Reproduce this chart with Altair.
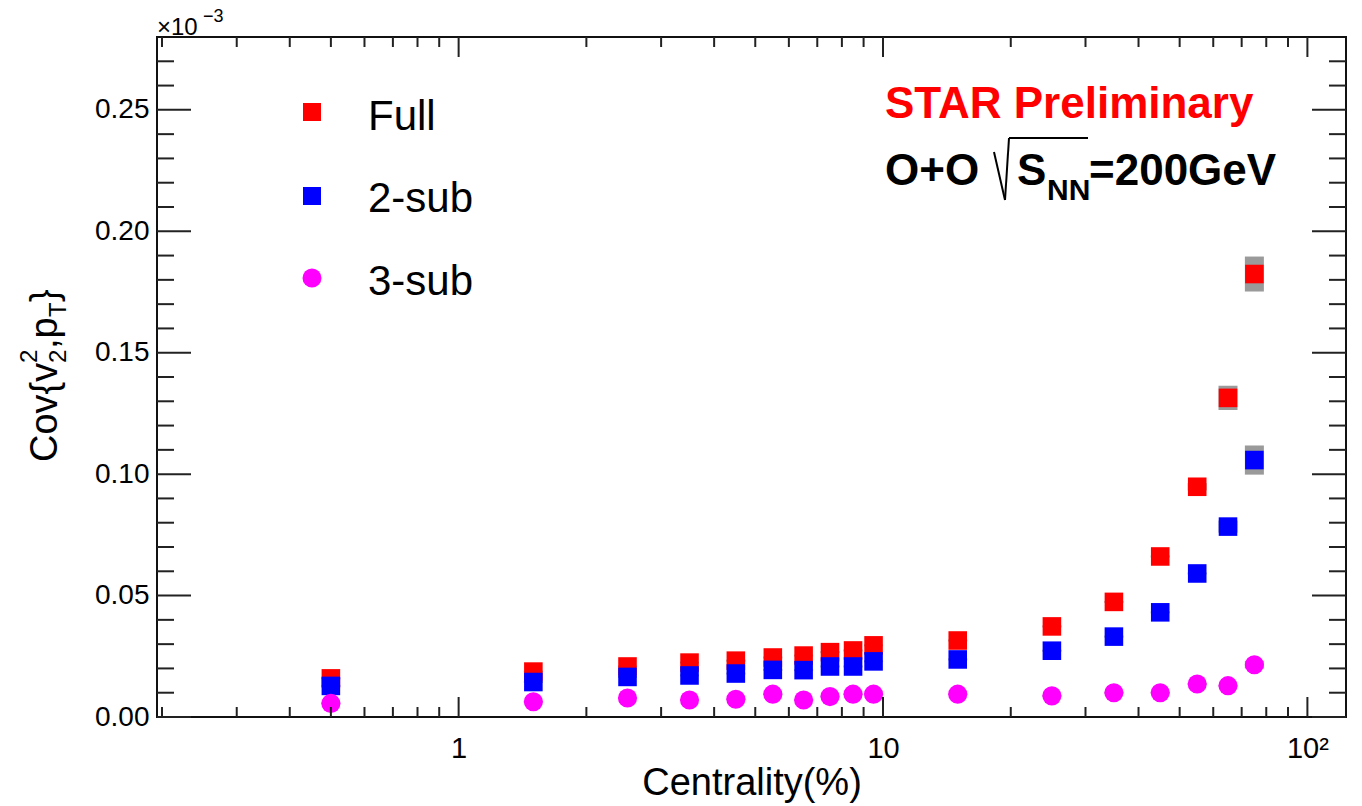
import altair as alt
import pandas as pd

# ---------------- data ----------------
centrality = [0.5, 1.5, 2.5, 3.5, 4.5, 5.5, 6.5, 7.5, 8.5, 9.5, 15, 25, 35, 45, 55, 65, 75]
full = [0.0159, 0.0187, 0.0208, 0.0224, 0.0232, 0.0245, 0.0253, 0.0267, 0.0274, 0.0295,
        0.0315, 0.0373, 0.0474, 0.0661, 0.0948, 0.1314, 0.1824]
sub2 = [0.0128, 0.0144, 0.0165, 0.0171, 0.0179, 0.0194, 0.0193, 0.0208, 0.0208, 0.0229,
        0.0237, 0.0273, 0.0331, 0.0431, 0.0591, 0.0784, 0.1058]
sub3 = [0.0056, 0.0063, 0.0078, 0.0070, 0.0073, 0.0094, 0.0070, 0.0084, 0.0094, 0.0094,
        0.0094, 0.0087, 0.0100, 0.0100, 0.0136, 0.0129, 0.0215]
full_sys = [0.0004] * 14 + [0.0015, 0.0050, 0.0072]
sub2_sys = [0.0004] * 15 + [0.0025, 0.0060]
sub3_sys = [0.0004] * 16 + [0.0015]

series_names = ["Full", "2-sub", "3-sub"]
series_colors = ["#ff0000", "#0000ff", "#ff00ff"]
series_shapes = ["square", "square", "circle"]

y_major = [0.0, 0.05, 0.10, 0.15, 0.20, 0.25]
y_minor = [0.01, 0.02, 0.03, 0.04, 0.06, 0.07, 0.08, 0.09, 0.11, 0.12, 0.13, 0.14,
           0.16, 0.17, 0.18, 0.19, 0.21, 0.22, 0.23, 0.24, 0.26, 0.27]
x_major = [1, 10, 100]
x_minor = [0.2, 0.3, 0.4, 0.5, 0.6, 0.7, 0.8, 0.9, 2, 3, 4, 5, 6, 7, 8, 9,
           20, 30, 40, 50, 60, 70, 80, 90]

# ---------------- layout ----------------
FONT = "Liberation Sans"
W, H = 1189, 680
OX, OY = 157, 37


def px(v):
    return v - OX


def py(v):
    return v - OY


xscale = alt.Scale(type="log", domain=[0.2, 120], nice=False, zero=False)
yscale = alt.Scale(domain=[0, 0.28], nice=False, zero=False)

rows = []
for name, vals, sys in zip(series_names, [full, sub2, sub3], [full_sys, sub2_sys, sub3_sys]):
    for c, v, s in zip(centrality, vals, sys):
        rows.append({"series": name, "c": c, "v": v, "lo": v - s, "hi": v + s})
df = pd.DataFrame(rows)

xaxis = alt.Axis(values=x_major, ticks=False, domain=False, grid=False,
                 labelFont=FONT, labelFontSize=29, labelColor="black", labelPadding=17,
                 labelExpr="datum.value == 100 ? '10²' : format(datum.value, 'd')",
                 title="Centrality(%)", titleFont=FONT, titleFontSize=38,
                 titleFontWeight="normal", titleColor="black", titleY=77,
                 titleBaseline="alphabetic")
yaxis = alt.Axis(values=y_major, ticks=False, domain=False, grid=False, format=".2f",
                 labelFont=FONT, labelFontSize=28, labelColor="black", labelPadding=8,
                 title=None)

base = alt.Chart(df)

# systematic boxes
boxes = base.mark_bar(size=19, color="#9a9a9a").encode(
    x=alt.X("c:Q", scale=xscale, axis=xaxis),
    y=alt.Y("lo:Q", scale=yscale, axis=yaxis),
    y2="hi:Q",
)

layers = [boxes]
for name, col, shp in zip(series_names, series_colors, series_shapes):
    size = 345 if shp == "square" else 365
    layers.append(
        base.transform_filter(alt.datum.series == name)
        .mark_point(shape=shp, filled=True, opacity=1, size=size, color=col, strokeWidth=0)
        .encode(x=alt.X("c:Q", scale=xscale), y=alt.Y("v:Q", scale=yscale))
    )

# ticks inside the frame (ROOT style)
tick_col = "#222222"
ymaj = pd.DataFrame({"t": y_major})
ymin = pd.DataFrame({"t": y_minor})
xmaj = pd.DataFrame({"t": x_major})
xmin = pd.DataFrame({"t": x_minor})
for d, ln in [(ymaj, 34), (ymin, 17)]:
    layers.append(alt.Chart(d).mark_rule(color=tick_col, strokeWidth=2).encode(
        y=alt.Y("t:Q", scale=yscale), x=alt.value(0), x2=alt.value(ln)))
    layers.append(alt.Chart(d).mark_rule(color=tick_col, strokeWidth=2).encode(
        y=alt.Y("t:Q", scale=yscale), x=alt.value(W - ln), x2=alt.value(W)))
for d, ln in [(xmaj, 20), (xmin, 10)]:
    layers.append(alt.Chart(d).mark_rule(color=tick_col, strokeWidth=2).encode(
        x=alt.X("t:Q", scale=xscale), y=alt.value(H - ln), y2=alt.value(H)))
    layers.append(alt.Chart(d).mark_rule(color=tick_col, strokeWidth=2).encode(
        x=alt.X("t:Q", scale=xscale), y=alt.value(0), y2=alt.value(ln)))

one = pd.DataFrame({"a": [0]})


def txt(text, x, y, size, color="black", weight="normal", angle=0, align="left",
        baseline="alphabetic"):
    return alt.Chart(one).mark_text(
        text=text, font=FONT, fontSize=size, fontWeight=weight, color=color,
        angle=angle, align=align, baseline=baseline,
    ).encode(x=alt.value(px(x)), y=alt.value(py(y)))


def seg(x1, y1, x2, y2, w=2):
    return alt.Chart(one).mark_rule(color="black", strokeWidth=w).encode(
        x=alt.value(px(x1)), y=alt.value(py(y1)), x2=alt.value(px(x2)), y2=alt.value(py(y2)))


# legend (manual, ROOT style)
leg_y = [112, 196, 278]
leg_base = [130, 212, 295]
for name, col, shp, yy, bb in zip(series_names, series_colors, series_shapes, leg_y, leg_base):
    size = 324 if shp == "square" else 360
    layers.append(alt.Chart(one).mark_point(shape=shp, filled=True, opacity=1, size=size,
                                            color=col, strokeWidth=0).encode(
        x=alt.value(px(312)), y=alt.value(py(yy))))
    layers.append(txt(name, 368, bb, 42))

# STAR labels
layers.append(txt("STAR Preliminary", 885, 118, 44, color="#ff0000", weight="bold"))
layers.append(txt("O+O", 885, 185, 44, weight="bold"))
layers.append(seg(994, 152, 1005, 200))
layers.append(seg(1005, 200, 1009, 138))
layers.append(seg(1009, 138, 1088, 138))
layers.append(txt("S", 1017, 185, 44, weight="bold"))
layers.append(txt("NN", 1047, 200, 30, weight="bold"))
layers.append(txt("=200GeV", 1089, 185, 44, weight="bold"))

# exponent label
layers.append(txt("×10", 157, 35, 24))
layers.append(txt("−3", 203, 22, 18))

# y-axis title Cov{v_2^2,p_T}, rotated
layers.append(txt("Cov{v", 57, 462, 38, angle=270))
layers.append(txt("2", 37, 363, 24, angle=270))
layers.append(txt("2", 66, 363, 24, angle=270))
layers.append(txt(",p", 57, 349, 38, angle=270))
layers.append(txt("T", 66, 317, 24, angle=270))
layers.append(txt("}", 57, 302, 38, angle=270))

chart = alt.layer(*layers).properties(
    width=W, height=H,
    padding={"left": OX, "top": OY, "right": 1362 - OX - W, "bottom": 806 - OY - H},
    autosize=alt.AutoSizeParams(type="none"),
    background="white",
).configure_view(stroke="#111111", strokeWidth=2)

chart.save("out.html", embed_options={"renderer": "svg", "actions": False})
